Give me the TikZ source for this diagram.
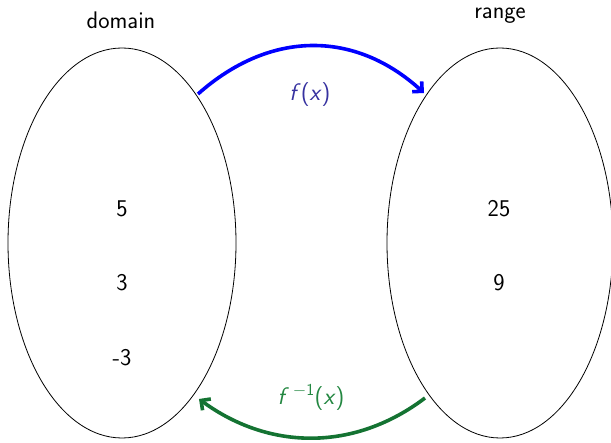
\documentclass[tikz,border=0pt]{standalone}
\usetikzlibrary{shapes.geometric,arrows.meta}
\definecolor{fblue}{RGB}{0,0,255}
\definecolor{flabel}{RGB}{55,50,160}
\definecolor{ggreen}{RGB}{20,115,50}
\definecolor{glabel}{RGB}{35,135,65}
\begin{document}
\begin{tikzpicture}[x=1pt,y=-1pt,
  txt/.style={font=\sffamily\fontsize{24}{28}\selectfont,inner sep=0pt},
  set/.style={draw=black,line width=0.8pt,ellipse,inner sep=0pt},
  maparrow/.style={line width=3.6pt,-{Straight Barb[length=7pt,width=14pt,line width=3.6pt]}}]
\useasboundingbox (0,0) rectangle (611,443);
\node[set,minimum width=228pt,minimum height=390pt] (L) at (122,243) {};
\node[set,minimum width=226pt,minimum height=390pt] (R) at (500,243) {};
\node[txt] (dom) at (121,20) {domain};
\node[txt] (ran) at (500,16) {range};
\node[txt] (a) at (122,209) {5};
\node[txt] (b) at (122,283) {3};
\node[txt] (c) at (122,358) {-3};
\node[txt] (d) at (499,209) {25};
\node[txt] (e) at (499,283) {9};
\node[txt,text=flabel] (fl) at (310,95) {\textit{f}(\textit{x})};
\node[txt,text=glabel] (gl) at (311,397) {\textit{f}\,\textsuperscript{\raisebox{0pt}{$-$}1}(\textit{x})};
\coordinate (p1) at (198,94);
\coordinate (p2) at (424,93);
\coordinate (q1) at (425,398);
\coordinate (q2) at (199,399);
\draw[maparrow,draw=fblue] (p1) .. controls (270,30) and (355,30) .. (p2);
\draw[maparrow,draw=ggreen] (q1) .. controls (355,451) and (270,451) .. (q2);
\end{tikzpicture}
\end{document}
